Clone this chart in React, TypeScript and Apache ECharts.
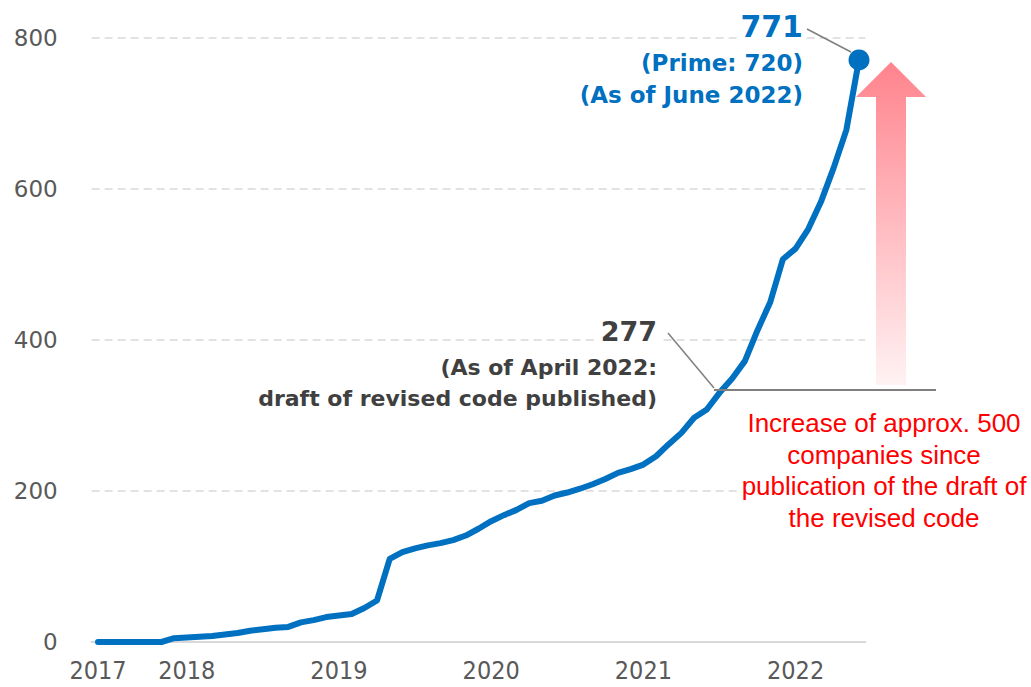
import React, { useEffect, useRef } from "react";
import * as echarts from "echarts";

// Monthly count, June 2017 .. June 2022 (index 0 = 2017-06)
const months: string[] = [
  "2017-06","2017-07","2017-08","2017-09","2017-10","2017-11","2017-12",
  "2018-01","2018-02","2018-03","2018-04","2018-05","2018-06","2018-07","2018-08","2018-09","2018-10","2018-11","2018-12",
  "2019-01","2019-02","2019-03","2019-04","2019-05","2019-06","2019-07","2019-08","2019-09","2019-10","2019-11","2019-12",
  "2020-01","2020-02","2020-03","2020-04","2020-05","2020-06","2020-07","2020-08","2020-09","2020-10","2020-11","2020-12",
  "2021-01","2021-02","2021-03","2021-04","2021-05","2021-06","2021-07","2021-08","2021-09","2021-10","2021-11","2021-12",
  "2022-01","2022-02","2022-03","2022-04","2022-05","2022-06",
];
const counts: number[] = [
  0, 0, 0, 0, 0, 0, 5,
  6, 7, 8, 10, 12, 15, 17, 19, 20, 26, 29, 33,
  35, 37, 45, 55, 110, 119, 124, 128, 131, 135, 141, 150,
  160, 168, 175, 184, 187, 194, 198, 203, 209, 216, 224, 229,
  235, 246, 262, 277, 297, 308, 330, 349, 372, 413, 450, 507,
  521, 547, 583, 628, 678, 771,
];
const yearLabels: string[] = ["2017", "2018", "2019", "2020", "2021", "2022"];
const yearTickIndex: number[] = [0, 7, 19, 31, 43, 55];
const yTicks: number[] = [0, 200, 400, 600, 800];

const blueNote: string[] = ["771", "(Prime: 720)", "(As of June 2022)"];
const greyNote: string[] = ["277", "(As of April 2022:", "draft of revised code published)"];
const redNote: string[] = [
  "Increase of approx. 500",
  "companies since",
  "publication of the draft of",
  "the revised code",
];

const BLUE = "#0070C0";
const GREY_TXT = "#404040";
const AXIS_TXT = "#595959";
const GRID = "#D9D9D9";
const LEADER = "#7F7F7F";
const BOLD = "'DejaVu Sans', Verdana, sans-serif";

export default function App() {
  const ref = useRef<HTMLDivElement>(null);
  useEffect(() => {
    if (!ref.current) return;
    const chart = echarts.init(ref.current, null, { renderer: "svg" });
    const lineData = counts.map((v, i) => [i, v]);
    const last = counts.length - 1;

    const arrowGrad = new echarts.graphic.LinearGradient(0, 0, 0, 1, [
      { offset: 0, color: "#FF838D" },
      { offset: 1, color: "#FFF2F3" },
    ]);

    const white = (x: number, y: number, w: number, h: number) => ({
      type: "rect",
      shape: { x, y, width: w, height: h },
      style: { fill: "#ffffff" },
      z: 5,
    });

    const graphic: any[] = [
      // white boxes behind texts (hide gridlines)
      white(738, 12, 67, 29),
      white(597, 318, 62, 24),
      white(742, 405, 289, 130),
      // blue annotation
      {
        type: "text", z: 10,
        style: { text: blueNote[0], x: 803, y: 26, textAlign: "right", textVerticalAlign: "middle", font: `bold 30px ${BOLD}`, fill: BLUE },
      },
      {
        type: "text", z: 10,
        style: { text: blueNote[1], x: 803, y: 63, textAlign: "right", textVerticalAlign: "middle", font: `bold 23px ${BOLD}`, fill: BLUE },
      },
      {
        type: "text", z: 10,
        style: { text: blueNote[2], x: 803, y: 95, textAlign: "right", textVerticalAlign: "middle", font: `bold 23px ${BOLD}`, fill: BLUE },
      },
      { type: "line", z: 10, shape: { x1: 807, y1: 29, x2: 851, y2: 52 }, style: { stroke: LEADER, lineWidth: 1.5 } },
      // grey annotation
      {
        type: "text", z: 10,
        style: { text: greyNote[0], x: 657, y: 331, textAlign: "right", textVerticalAlign: "middle", font: `bold 27px ${BOLD}`, fill: GREY_TXT },
      },
      {
        type: "text", z: 10,
        style: { text: greyNote[1], x: 657, y: 367, textAlign: "right", textVerticalAlign: "middle", font: `bold 22px ${BOLD}`, fill: GREY_TXT },
      },
      {
        type: "text", z: 10,
        style: { text: greyNote[2], x: 657, y: 398, textAlign: "right", textVerticalAlign: "middle", font: `bold 22px ${BOLD}`, fill: GREY_TXT },
      },
      { type: "line", z: 10, shape: { x1: 668, y1: 333, x2: 714, y2: 388 }, style: { stroke: LEADER, lineWidth: 1.5 } },
      { type: "line", z: 10, shape: { x1: 714, y1: 390, x2: 936, y2: 390 }, style: { stroke: LEADER, lineWidth: 2 } },
      // arrow
      {
        type: "polygon",
        shape: {
          points: [
            [876, 385], [876, 97], [856, 97], [891, 62], [926, 97], [906, 97], [906, 385],
          ],
        },
        style: { fill: arrowGrad },
        z: 1,
      },
      // red note
      ...redNote.map((t, i) => ({
        type: "text",
        z: 10,
        style: {
          text: t,
          x: 884,
          y: 423 + i * 31.7,
          textAlign: "center",
          textVerticalAlign: "middle",
          font: "26px 'Liberation Sans', Arial, sans-serif",
          fill: "#FF0000",
        },
      })),
    ];

    chart.setOption({
      animation: false,
      backgroundColor: "#ffffff",
      grid: { left: 91.66, right: 165.66, top: 38, bottom: 45, containLabel: false },
      xAxis: {
        type: "value",
        min: -0.5,
        max: months.length - 0.5,
        axisLine: { show: true, onZero: false, lineStyle: { color: GRID, width: 2 } },
        axisTick: { show: false },
        splitLine: { show: false },
        axisLabel: {
          customValues: yearTickIndex,
          formatter: (v: number) => {
            const k = yearTickIndex.indexOf(Math.round(v));
            return k >= 0 ? yearLabels[k] : "";
          },
          color: AXIS_TXT,
          fontSize: 25,
          lineHeight: 25,
          fontFamily: "'Liberation Sans Narrow', 'DejaVu Sans Condensed', sans-serif",
          margin: 16,
          showMinLabel: true,
          showMaxLabel: true,
        },
      },
      yAxis: {
        type: "value",
        min: yTicks[0],
        max: yTicks[yTicks.length - 1],
        interval: 200,
        axisLine: { show: false },
        axisTick: { show: false },
        axisLabel: {
          color: AXIS_TXT,
          fontSize: 23,
          fontFamily: "'DejaVu Sans', Verdana, sans-serif",
          margin: 34,
        },
        splitLine: { show: true, lineStyle: { color: GRID, width: 1.5, type: [8, 5] } },
      },
      series: [
        {
          type: "line",
          data: lineData,
          symbol: "none",
          lineStyle: { color: BLUE, width: 6, cap: "round", join: "round" },
          z: 3,
        },
        {
          type: "scatter",
          data: [[last, counts[last]]],
          symbol: "circle",
          symbolSize: 21,
          itemStyle: { color: BLUE, opacity: 1 },
          z: 4,
        },
      ],
      graphic,
    });
    return () => chart.dispose();
  }, []);
  return (
    <div
      ref={ref}
      style={{ position: "fixed", left: 0, top: 0, width: 1031, height: 687 }}
    />
  );
}
